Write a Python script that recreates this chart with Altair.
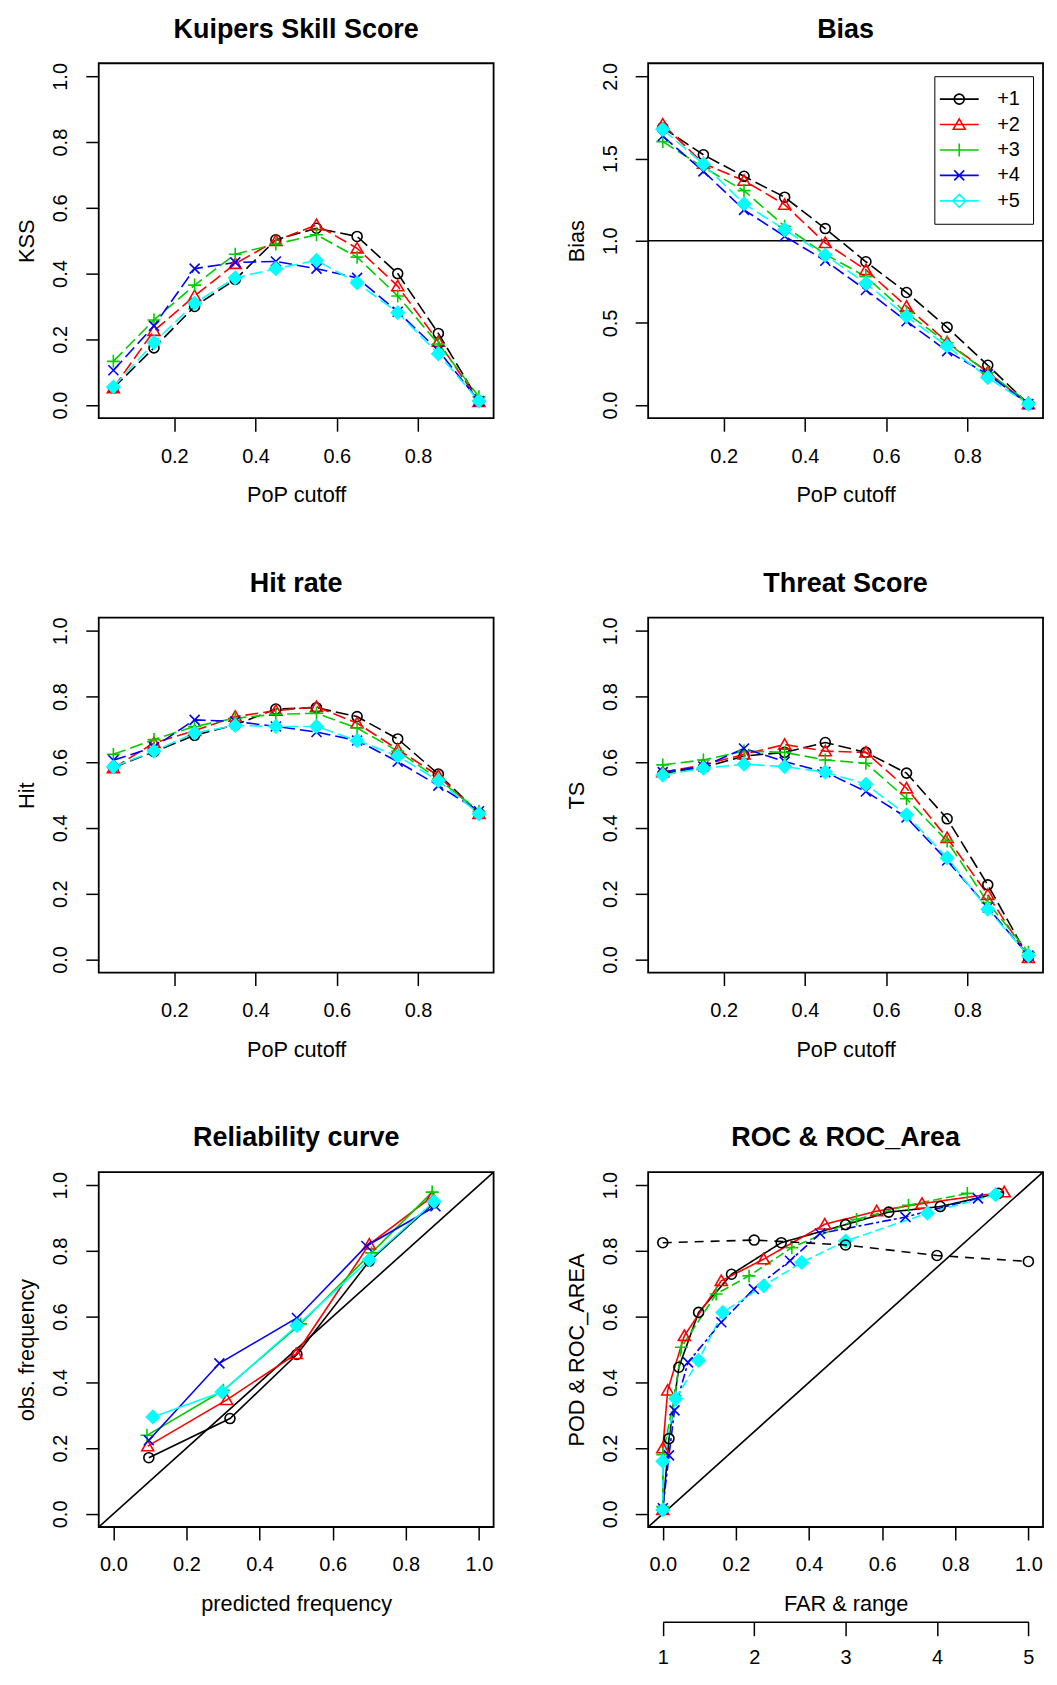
import altair as alt
import pandas as pd

FONT = "Liberation Sans"
SERIES = ["+1", "+2", "+3", "+4", "+5"]
COLORS = ["#000000", "#FF0000", "#00CD00", "#0000FF", "#00FFFF"]
CUTOFF = [0.05, 0.15, 0.25, 0.35, 0.45, 0.55, 0.65, 0.75, 0.85, 0.95]
TICKS_POP = [0.2, 0.4, 0.6, 0.8]
TICKS01 = [0.0, 0.2, 0.4, 0.6, 0.8, 1.0]
TICKS02 = [0.0, 0.5, 1.0, 1.5, 2.0]

# Kuipers Skill Score
kss_1 = [0.052, 0.174, 0.300, 0.382, 0.503, 0.538, 0.513, 0.400, 0.218, 0.012]
kss_2 = [0.052, 0.226, 0.332, 0.430, 0.500, 0.548, 0.477, 0.362, 0.193, 0.010]
kss_3 = [0.133, 0.259, 0.365, 0.459, 0.490, 0.518, 0.450, 0.332, 0.186, 0.025]
kss_4 = [0.106, 0.241, 0.415, 0.434, 0.437, 0.415, 0.387, 0.284, 0.166, 0.012]
kss_5 = [0.055, 0.190, 0.310, 0.387, 0.415, 0.440, 0.372, 0.281, 0.156, 0.012]

# Bias
bias_1 = [1.688, 1.523, 1.392, 1.265, 1.074, 0.872, 0.685, 0.473, 0.242, 0.006]
bias_2 = [1.708, 1.470, 1.366, 1.220, 0.987, 0.822, 0.600, 0.383, 0.200, 0.006]
bias_3 = [1.603, 1.446, 1.305, 1.088, 0.918, 0.781, 0.560, 0.379, 0.197, 0.016]
bias_4 = [1.637, 1.422, 1.188, 1.027, 0.878, 0.700, 0.510, 0.328, 0.187, 0.006]
bias_5 = [1.678, 1.466, 1.225, 1.067, 0.912, 0.741, 0.540, 0.358, 0.167, 0.006]
BIAS_REF = [1.0]

# Hit rate
hit_1 = [0.584, 0.632, 0.682, 0.714, 0.762, 0.766, 0.739, 0.671, 0.564, 0.445]
hit_2 = [0.582, 0.659, 0.696, 0.739, 0.757, 0.769, 0.719, 0.639, 0.559, 0.443]
hit_3 = [0.624, 0.669, 0.709, 0.734, 0.746, 0.749, 0.704, 0.634, 0.549, 0.451]
hit_4 = [0.606, 0.646, 0.729, 0.724, 0.709, 0.692, 0.666, 0.602, 0.529, 0.451]
hit_5 = [0.586, 0.634, 0.689, 0.712, 0.709, 0.709, 0.666, 0.619, 0.544, 0.443]

# Threat score
ts_1 = [0.565, 0.584, 0.619, 0.630, 0.660, 0.630, 0.567, 0.428, 0.227, 0.007]
ts_2 = [0.570, 0.592, 0.624, 0.654, 0.634, 0.630, 0.521, 0.370, 0.197, 0.005]
ts_3 = [0.592, 0.607, 0.634, 0.630, 0.607, 0.597, 0.489, 0.360, 0.173, 0.022]
ts_4 = [0.570, 0.587, 0.642, 0.602, 0.570, 0.511, 0.432, 0.301, 0.158, 0.012]
ts_5 = [0.561, 0.582, 0.594, 0.587, 0.570, 0.533, 0.440, 0.309, 0.153, 0.012]

# Reliability curve (predicted, observed)
rel_x_1 = [0.097, 0.319, 0.502, 0.700, 0.877]
rel_y_1 = [0.171, 0.290, 0.485, 0.769, 0.946]
rel_x_2 = [0.094, 0.310, 0.500, 0.700, 0.872]
rel_y_2 = [0.206, 0.347, 0.487, 0.820, 0.965]
rel_x_3 = [0.092, 0.301, 0.512, 0.706, 0.872]
rel_y_3 = [0.239, 0.376, 0.578, 0.794, 0.979]
rel_x_4 = [0.097, 0.290, 0.502, 0.692, 0.881]
rel_y_4 = [0.224, 0.458, 0.596, 0.815, 0.936]
rel_x_5 = [0.108, 0.297, 0.502, 0.700, 0.877]
rel_y_5 = [0.295, 0.371, 0.573, 0.773, 0.950]

# ROC (FAR, POD), cutoff 0.05 -> 0.95
roc_far_1 = [0.918, 0.759, 0.618, 0.500, 0.324, 0.188, 0.098, 0.044, 0.017, 0.000]
roc_pod_1 = [0.975, 0.935, 0.918, 0.880, 0.825, 0.729, 0.613, 0.446, 0.229, 0.012]
roc_far_2 = [0.934, 0.709, 0.585, 0.443, 0.276, 0.160, 0.059, 0.0135, 0.000, 0.000]
roc_pod_2 = [0.979, 0.944, 0.921, 0.881, 0.775, 0.709, 0.542, 0.376, 0.200, 0.012]
roc_far_3 = [0.833, 0.672, 0.530, 0.353, 0.236, 0.146, 0.051, 0.033, 0.000, 0.000]
roc_pod_3 = [0.975, 0.939, 0.896, 0.810, 0.724, 0.669, 0.507, 0.360, 0.180, 0.022]
roc_far_4 = [0.862, 0.664, 0.430, 0.348, 0.249, 0.160, 0.069, 0.032, 0.017, 0.000]
roc_pod_4 = [0.960, 0.903, 0.853, 0.770, 0.684, 0.583, 0.461, 0.315, 0.178, 0.017]
roc_far_5 = [0.910, 0.724, 0.500, 0.380, 0.276, 0.164, 0.098, 0.035, 0.000, 0.000]
roc_pod_5 = [0.971, 0.915, 0.830, 0.765, 0.694, 0.613, 0.467, 0.350, 0.160, 0.012]

# ROC area by range
ROC_RANGE = [1, 2, 3, 4, 5]
roc_area = [0.825, 0.833, 0.818, 0.786, 0.768]

# ---------------------------------------------------------------
W, H = 396, 356
PAD = 0.04
X_POP = [0.05 - 0.9 * PAD, 0.95 + 0.9 * PAD]
Y01 = [-PAD, 1 + PAD]
Y02 = [-2 * PAD, 2 + 2 * PAD]

TRI = "M0,-1.15L1.2,0.93L-1.2,0.93Z"
PLUS = "M-1.3,0L1.3,0M0,-1.3L0,1.3"
XSH = "M-1,-1L1,1M-1,1L1,-1"
DIA = "M0,-1.3L1.3,0L0,1.3L-1.3,0Z"
CIRC_PATH = "M1,0A1,1,0,1,1,-1,0A1,1,0,1,1,1,0"
PLOT_SHAPES = ["circle", TRI, PLUS, XSH, DIA]
PLOT_SIZES = [100, 100, 100, 100, 14]
PLOT_FILLS = ["transparent"] * 4 + ["#00FFFF"]
LINE = "M-3.9,0L3.9,0"
LEG_SHAPES = [LINE + CIRC_PATH, LINE + TRI, LINE + PLUS, LINE + XSH, LINE + DIA]


def make_df(xs, ys):
    rows = []
    for s, xv, yv in zip(SERIES, xs, ys):
        for i, (a, b) in enumerate(zip(xv, yv)):
            rows.append({"s": s, "x": a, "y": b, "i": i})
    return pd.DataFrame(rows)


def ttl(t):
    return alt.TitleParams(text=t, font=FONT, fontSize=27, fontWeight="bold",
                           color="black", anchor="middle", frame="group",
                           baseline="alphabetic", offset=-2)


def enc_x(dom, ticks, title):
    return alt.X("x:Q", scale=alt.Scale(domain=dom, nice=False, zero=False),
                 axis=alt.Axis(title=title, values=ticks, format=".1f"))


def enc_y(dom, ticks, title):
    return alt.Y("y:Q", scale=alt.Scale(domain=dom, nice=False, zero=False),
                 axis=alt.Axis(title=title, values=ticks, format=".1f"))


color_enc = alt.Color("s:N", scale=alt.Scale(domain=SERIES, range=COLORS), legend=None)


def series_layers(df, x, y, dash=None, dash_list=None):
    if dash is not None:
        line = alt.Chart(df).mark_line(strokeWidth=1.6, strokeDash=dash)
    else:
        line = alt.Chart(df).mark_line(strokeWidth=1.6)
    enc = dict(x=x, y=y, color=color_enc, order=alt.Order("i:Q"))
    if dash_list is not None:
        enc["strokeDash"] = alt.StrokeDash("s:N", scale=alt.Scale(domain=SERIES, range=dash_list), legend=None)
    lines = line.encode(**enc)
    pts = alt.Chart(df).mark_point(filled=False, strokeWidth=1.6, opacity=1).encode(
        x=x, y=y, color=color_enc,
        shape=alt.Shape("s:N", scale=alt.Scale(domain=SERIES, range=PLOT_SHAPES), legend=None),
        size=alt.Size("s:N", scale=alt.Scale(domain=SERIES, range=PLOT_SIZES), legend=None),
        fill=alt.Fill("s:N", scale=alt.Scale(domain=SERIES, range=PLOT_FILLS), legend=None),
    )
    return lines, pts


def pop_panel(vals, ytitle, ydom=Y01, yticks=TICKS01):
    df = make_df([CUTOFF] * 5, vals)
    x = enc_x(X_POP, TICKS_POP, "PoP cutoff")
    y = enc_y(ydom, yticks, ytitle)
    lines, pts = series_layers(df, x, y, dash=[13, 5])
    return df, x, y, lines, pts


# KSS
_, _, _, l1, p1 = pop_panel([kss_1, kss_2, kss_3, kss_4, kss_5], "KSS")
kss_panel = alt.layer(l1, p1).properties(width=W, height=H, title=ttl("Kuipers Skill Score"))

# Bias with legend
bdf, bx, by, l2, p2 = pop_panel([bias_1, bias_2, bias_3, bias_4, bias_5], "Bias", Y02, TICKS02)
href = alt.Chart(pd.DataFrame({"y": BIAS_REF})).mark_rule(color="black", strokeWidth=1.6).encode(y=alt.Y("y:Q"))
leg = alt.Legend(title=None, orient="none", legendX=287, legendY=13, direction="vertical",
                 strokeColor="black", padding=13, labelFont=FONT, labelFontSize=20,
                 labelColor="black", symbolSize=100, symbolStrokeWidth=1.6, symbolOpacity=1,
                 symbolOffset=2, labelOffset=28, rowPadding=5.5)
legend_layer = alt.Chart(bdf).mark_point(filled=False, opacity=0, size=100, strokeWidth=1.6).encode(
    x=bx, y=by,
    color=alt.Color("s:N", scale=alt.Scale(domain=SERIES, range=COLORS), legend=leg),
    shape=alt.Shape("s:N", scale=alt.Scale(domain=SERIES, range=LEG_SHAPES), legend=leg),
)
bias_panel = alt.layer(alt.layer(href, l2, p2), legend_layer).resolve_scale(
    color="independent", shape="independent"
).properties(width=W, height=H, title=ttl("Bias"))

# Hit rate
_, _, _, l3, p3 = pop_panel([hit_1, hit_2, hit_3, hit_4, hit_5], "Hit")
hit_panel = alt.layer(l3, p3).properties(width=W, height=H, title=ttl("Hit rate"))

# Threat score
_, _, _, l4, p4 = pop_panel([ts_1, ts_2, ts_3, ts_4, ts_5], "TS")
ts_panel = alt.layer(l4, p4).properties(width=W, height=H, title=ttl("Threat Score"))

# Reliability
diag_df = pd.DataFrame({"x": [Y01[0]], "y": [Y01[0]], "x2": [Y01[1]], "y2": [Y01[1]]})
rdf = make_df([rel_x_1, rel_x_2, rel_x_3, rel_x_4, rel_x_5], [rel_y_1, rel_y_2, rel_y_3, rel_y_4, rel_y_5])
rx = enc_x(Y01, TICKS01, "predicted frequency")
ry = enc_y(Y01, TICKS01, "obs. frequency")
rdiag = alt.Chart(diag_df).mark_rule(color="black", strokeWidth=1.6).encode(x=rx, y=ry, x2="x2:Q", y2="y2:Q")
l5, p5 = series_layers(rdf, rx, ry)
rel_panel = alt.layer(rdiag, l5, p5).properties(width=W, height=H, title=ttl("Reliability curve"))

# ROC
odf = make_df([roc_far_1, roc_far_2, roc_far_3, roc_far_4, roc_far_5],
              [roc_pod_1, roc_pod_2, roc_pod_3, roc_pod_4, roc_pod_5])
ox = enc_x(Y01, TICKS01, "FAR & range")
oy = enc_y(Y01, TICKS01, "POD & ROC_AREA")
odiag = alt.Chart(diag_df).mark_rule(color="black", strokeWidth=1.6).encode(x=ox, y=oy, x2="x2:Q", y2="y2:Q")
l6, p6 = series_layers(odf, ox, oy, dash_list=[[1, 0], [1, 0], [9, 4], [9, 3, 3, 3], [9, 4]])
roc_main = alt.layer(odiag, l6, p6)

adf = pd.DataFrame({"r": ROC_RANGE, "y": roc_area})
rng_px = [W * PAD / (1 + 2 * PAD), W * (1 + PAD) / (1 + 2 * PAD)]
ax = alt.X("r:Q", scale=alt.Scale(domain=[ROC_RANGE[0], ROC_RANGE[-1]], range=rng_px, nice=False, zero=False),
           axis=alt.Axis(orient="bottom", offset=95, values=ROC_RANGE, format="d", title=None,
                         domain=True, domainColor="black", domainWidth=1.5, tickSize=14, labelPadding=12))
aline = alt.Chart(adf).mark_line(color="black", strokeWidth=1.6, strokeDash=[9, 7]).encode(x=ax, y=oy)
apts = alt.Chart(adf).mark_point(shape="circle", filled=False, color="black", size=100,
                                 strokeWidth=1.6, opacity=1).encode(x=ax, y=oy)
roc_panel = alt.layer(roc_main, alt.layer(aline, apts)).resolve_scale(x="independent").properties(
    width=W, height=H, title=ttl("ROC & ROC_Area"))

chart = alt.concat(
    kss_panel, bias_panel, hit_panel, ts_panel, rel_panel, roc_panel,
    columns=2, spacing=alt.RowColnumber(row=200, column=155), bounds="flush",
).properties(
    padding={"left": 8, "top": 4, "right": 0, "bottom": 0},
    background="white",
).configure_view(
    stroke="black", strokeWidth=1.8
).configure_axis(
    grid=False, domain=False, tickSize=13, tickWidth=1.5, tickColor="black",
    labelFont=FONT, labelFontSize=20, labelColor="black", labelPadding=15,
    titleFont=FONT, titleFontSize=21.8, titleFontWeight="normal", titleColor="black",
    labelFlush=False, labelOverlap=False,
).configure_axisX(
    titlePadding=19
).configure_axisY(
    labelAngle=-90, labelAlign="center", labelBaseline="bottom", titlePadding=12
)

chart.save("out.html", embed_options={"renderer": "svg", "actions": False})
